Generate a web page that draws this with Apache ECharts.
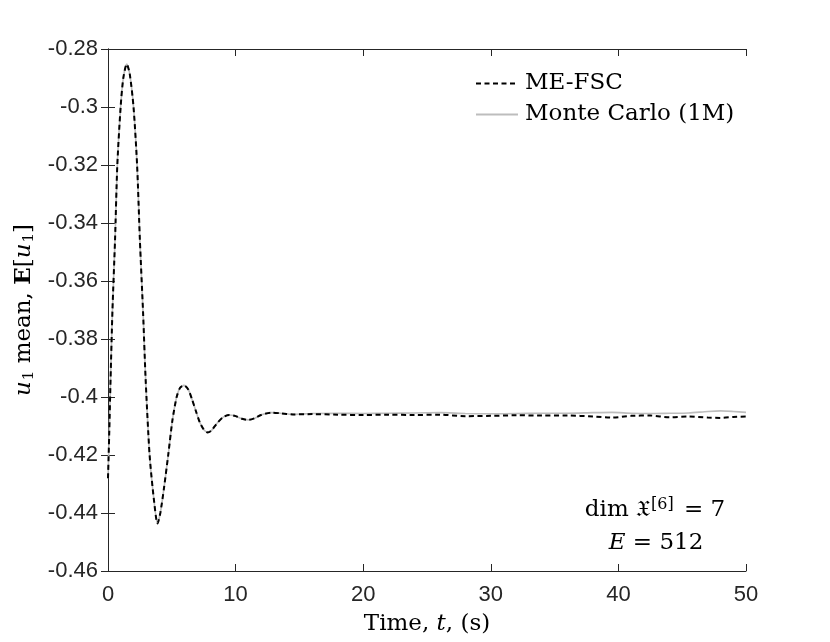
<!DOCTYPE html>
<html>
<head>
<meta charset="utf-8">
<script src="https://cdn.jsdelivr.net/npm/echarts@6/dist/echarts.min.js"></script>
<style>
  html, body { margin: 0; padding: 0; background: #fff; }
  #chart { width: 830px; height: 642px; }
</style>
</head>
<body>
<div id="chart"></div>
<script>
// time samples (s)
const timeData = [0, 0.1, 0.2, 0.35, 0.55, 0.73, 0.99, 1.2, 1.47, 1.7, 2.0, 2.28, 2.5, 2.75, 2.95,
  3.26, 3.6, 3.88, 4.1, 4.4, 4.72, 5.05, 5.38, 5.65, 5.95, 6.3, 6.6, 6.9, 7.2, 7.5, 7.8, 8.1, 8.5,
  9.0, 9.5, 10.0, 10.5, 11.0, 11.5, 12.0, 12.8, 13.5, 14.5, 16, 18, 20, 22, 24, 26, 28, 30, 32, 34,
  36, 38, 39.5, 41, 42.5, 44, 45.5, 47, 48, 49, 50]

// ME-FSC mean of u1
const meFscData = [-0.428, -0.412, -0.394, -0.370, -0.346, -0.320, -0.300, -0.290, -0.2852, -0.2885,
  -0.300, -0.320, -0.346, -0.371, -0.394, -0.420, -0.4355, -0.4436, -0.440, -0.431, -0.420, -0.408,
  -0.400, -0.3968, -0.3960, -0.3975, -0.401, -0.405, -0.4088, -0.4112, -0.4122, -0.4116, -0.4093,
  -0.4070, -0.4062, -0.4066, -0.4075, -0.4079, -0.4073, -0.4062, -0.4054, -0.4056, -0.4060,
  -0.4059, -0.4061, -0.4062, -0.4061, -0.4062, -0.4061, -0.4066, -0.4065, -0.4063, -0.4064,
  -0.4064, -0.4067, -0.4071, -0.4065, -0.4064, -0.4070, -0.4067, -0.4071, -0.4072, -0.4069, -0.4067]

// Monte Carlo (1M) mean of u1
const mcData = [-0.428, -0.412, -0.394, -0.370, -0.346, -0.320, -0.300, -0.290, -0.2852, -0.2885,
  -0.300, -0.320, -0.346, -0.371, -0.394, -0.420, -0.4355, -0.4436, -0.440, -0.431, -0.420, -0.408,
  -0.400, -0.3968, -0.3960, -0.3975, -0.401, -0.405, -0.4088, -0.4112, -0.4122, -0.4116, -0.4093,
  -0.4070, -0.4062, -0.4066, -0.4075, -0.4079, -0.4073, -0.4062, -0.4054, -0.4056, -0.4060,
  -0.4057, -0.4056, -0.4057, -0.4056, -0.4055, -0.4054, -0.4057, -0.4058, -0.4057, -0.4056,
  -0.4056, -0.4054, -0.4053, -0.4056, -0.4057, -0.4056, -0.4055, -0.4050, -0.4048, -0.4050, -0.4053]

const seriesNames = ['ME-FSC', 'Monte Carlo (1M)']

const pairs = (ys) => timeData.map((t, i) => [t, ys[i]])

const axisColor = '#262626'
const serif = 'DejaVu Serif'
const sans = 'Liberation Sans'

const myChart = echarts.init(document.getElementById('chart'))

const tickCommon = {
  show: true,
  inside: true,
  length: 7,
  lineStyle: { color: axisColor, width: 1 }
}

const option = {
  animation: false,
  grid: { left: 108, top: 49, right: 84, bottom: 71, containLabel: false },
  legend: {
    orient: 'vertical',
    left: 470,
    top: 67,
    itemWidth: 42,
    itemHeight: 14,
    itemGap: 8,
    itemStyle: { opacity: 0 },
    textStyle: { fontFamily: serif, fontSize: 23, color: '#000', padding: [0, 0, 0, 2] },
    data: seriesNames
  },
  xAxis: [
    {
      type: 'value',
      min: 0,
      max: 50,
      interval: 10,
      name: '{n|Time, }{i|t}{n|, (s)}',
      nameLocation: 'middle',
      nameGap: 42,
      nameTextStyle: {
        rich: {
          n: { fontFamily: serif, fontSize: 23, color: '#000' },
          i: { fontFamily: serif, fontSize: 23, fontStyle: 'italic', color: '#000' }
        }
      },
      axisLine: { show: true, lineStyle: { color: axisColor, width: 1 } },
      axisTick: tickCommon,
      splitLine: { show: false },
      axisLabel: { fontFamily: sans, fontSize: 22, color: axisColor, margin: 13 }
    },
    {
      type: 'value',
      position: 'top',
      min: 0,
      max: 50,
      interval: 10,
      axisLine: { show: true, lineStyle: { color: axisColor, width: 1 } },
      axisTick: tickCommon,
      splitLine: { show: false },
      axisLabel: { show: false }
    }
  ],
  yAxis: [
    {
      type: 'value',
      min: -0.46,
      max: -0.28,
      interval: 0.02,
      name: '{i|u}{s|1}{n| mean, }{b|E}{n|[}{i|u}{s|1}{n|]}',
      nameLocation: 'middle',
      nameRotate: 90,
      nameGap: 64,
      nameTextStyle: {
        rich: {
          n: { fontFamily: serif, fontSize: 23, color: '#000' },
          i: { fontFamily: serif, fontSize: 23, fontStyle: 'italic', color: '#000' },
          b: { fontFamily: serif, fontSize: 23, fontWeight: 'bold', color: '#000' },
          s: { fontFamily: serif, fontSize: 15, color: '#000', verticalAlign: 'bottom', padding: [10, 0, 0, 1] }
        }
      },
      axisLine: { show: true, lineStyle: { color: axisColor, width: 1 } },
      axisTick: tickCommon,
      splitLine: { show: false },
      axisLabel: {
        fontFamily: sans, fontSize: 22, color: axisColor, margin: 10,
        formatter: (v) => String(Math.round(v * 100) / 100)
      }
    },
    {
      type: 'value',
      position: 'right',
      min: -0.46,
      max: -0.28,
      interval: 0.02,
      axisLine: { show: true, lineStyle: { color: axisColor, width: 1 } },
      axisTick: tickCommon,
      splitLine: { show: false },
      axisLabel: { show: false }
    }
  ],
  graphic: [
    {
      type: 'text',
      x: 655,
      y: 510,
      style: {
        text: '{n|dim }{f|𝔛}{s|[6]}{n| = 7}',
        align: 'center',
        verticalAlign: 'middle',
        rich: {
          n: { fontFamily: serif, fontSize: 23, fill: '#000' },
          f: { fontFamily: serif, fontSize: 23, fill: '#000' },
          s: { fontFamily: serif, fontSize: 16, fill: '#000', verticalAlign: 'top', padding: [0, 3, 10, 1] }
        }
      }
    },
    {
      type: 'text',
      x: 656,
      y: 543,
      style: {
        text: '{i|E}{n| = 512}',
        align: 'center',
        verticalAlign: 'middle',
        rich: {
          n: { fontFamily: serif, fontSize: 23, fill: '#000' },
          i: { fontFamily: serif, fontSize: 23, fontStyle: 'italic', fill: '#000' }
        }
      }
    }
  ],
  series: [
    {
      name: seriesNames[1],
      type: 'line',
      data: pairs(mcData),
      smooth: 0.25,
      symbol: 'none',
      z: 2,
      itemStyle: { color: '#bdbdbd' },
      lineStyle: { color: '#bdbdbd', width: 1.6 }
    },
    {
      name: seriesNames[0],
      type: 'line',
      data: pairs(meFscData),
      smooth: 0.25,
      symbol: 'none',
      z: 3,
      itemStyle: { color: '#000' },
      lineStyle: { color: '#000', width: 2, type: [5, 3.5] }
    }
  ]
}
option && myChart.setOption(option)
</script>
</body>
</html>
